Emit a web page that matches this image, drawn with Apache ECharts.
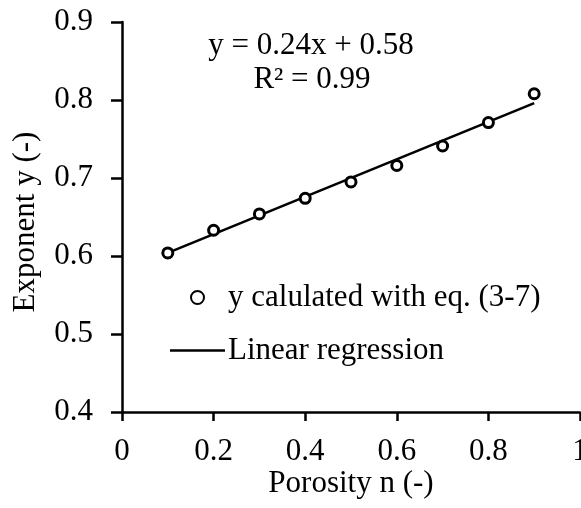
<!DOCTYPE html>
<html>
<head>
<meta charset="utf-8">
<script src="https://cdn.jsdelivr.net/npm/echarts@6/dist/echarts.min.js"></script>
<style>
  html, body { margin: 0; padding: 0; background: #fff; }
  #chart { width: 581px; height: 508px; }
</style>
</head>
<body>
<div id="chart"></div>
<script>
// Porosity values and the exponent computed from eq. (3-7)
const porosity = [0.1, 0.2, 0.3, 0.4, 0.5, 0.6, 0.7, 0.8, 0.9];
const exponentY = [0.604, 0.633, 0.654, 0.674, 0.695, 0.716, 0.741, 0.771, 0.808];

// Fitted regression: y = slope * n + intercept
const slope = 0.24;
const intercept = 0.58;
const fitRange = [0.1, 0.9];

const seriesNames = ['y calulated with eq. (3-7)', 'Linear regression'];
const equationText = 'y = 0.24x + 0.58';
const r2Text = 'R\u00b2 = 0.99';

const FONT = '"Liberation Serif", "Times New Roman", serif';
const FS = 31;

const chart = echarts.init(document.getElementById('chart'));

const fitLine = fitRange.map(n => [n, slope * n + intercept]);

chart.setOption({
  animation: false,
  backgroundColor: '#fff',
  textStyle: { fontFamily: FONT, color: '#000' },
  grid: { left: 122, right: 1, top: 22, bottom: 96, containLabel: false, outerBoundsMode: 'none' },
  xAxis: {
    type: 'value', min: 0, max: 1, interval: 0.2,
    splitLine: { show: false },
    axisLine: { lineStyle: { color: '#000', width: 2.5 } },
    axisTick: { show: true, inside: false, length: 9, lineStyle: { color: '#000', width: 2.5 } },
    axisLabel: { color: '#000', fontFamily: FONT, fontSize: FS, margin: 24, hideOverlap: false,
      formatter: v => String(+v.toFixed(1)) }
  },
  yAxis: {
    type: 'value', min: 0.4, max: 0.9, interval: 0.1,
    splitLine: { show: false },
    axisLine: { show: true, lineStyle: { color: '#000', width: 2.5 } },
    axisTick: { show: true, inside: false, length: 11, lineStyle: { color: '#000', width: 2.5 } },
    axisLabel: { color: '#000', fontFamily: FONT, fontSize: FS, margin: 29,
      formatter: v => v.toFixed(1) }
  },
  legend: {
    orient: 'vertical', left: 165, top: 277,
    itemWidth: 55, itemHeight: 13, itemGap: 22,
    textStyle: { fontFamily: FONT, fontSize: FS, color: '#000', padding: [0, 0, 0, -2] },
    data: [
      { name: seriesNames[0] },
      // plain stroke icon for the regression line
      { name: seriesNames[1], icon: 'path://M0,0 H55 V2.6 H0 Z', itemStyle: { color: '#000', borderWidth: 0 } }
    ]
  },
  graphic: [
    { type: 'text', style: { text: equationText, x: 311, y: 46, align: 'center', verticalAlign: 'middle', font: FS + 'px ' + FONT, fill: '#000' } },
    { type: 'text', style: { text: r2Text, x: 312, y: 80, align: 'center', verticalAlign: 'middle', font: FS + 'px ' + FONT, fill: '#000' } },
    { type: 'text', style: { text: 'Porosity n (-)', x: 351, y: 484, align: 'center', verticalAlign: 'middle', font: FS + 'px ' + FONT, fill: '#000' } },
    { type: 'text', x: 26, y: 222, rotation: Math.PI / 2, style: { text: 'Exponent y (-)', x: 0, y: 0, align: 'center', verticalAlign: 'middle', font: FS + 'px ' + FONT, fill: '#000' } }
  ],
  series: [
    {
      name: seriesNames[0], type: 'scatter', z: 3,
      symbol: 'circle', symbolSize: 10,
      itemStyle: { color: '#fff', borderColor: '#000', borderWidth: 3, opacity: 1 },
      data: porosity.map((n, i) => [n, exponentY[i]])
    },
    {
      name: seriesNames[1], type: 'line', z: 2,
      symbol: 'none', showSymbol: false,
      lineStyle: { color: '#000', width: 2.6 },
      itemStyle: { color: '#000' },
      data: fitLine
    }
  ]
});
</script>
</body>
</html>
